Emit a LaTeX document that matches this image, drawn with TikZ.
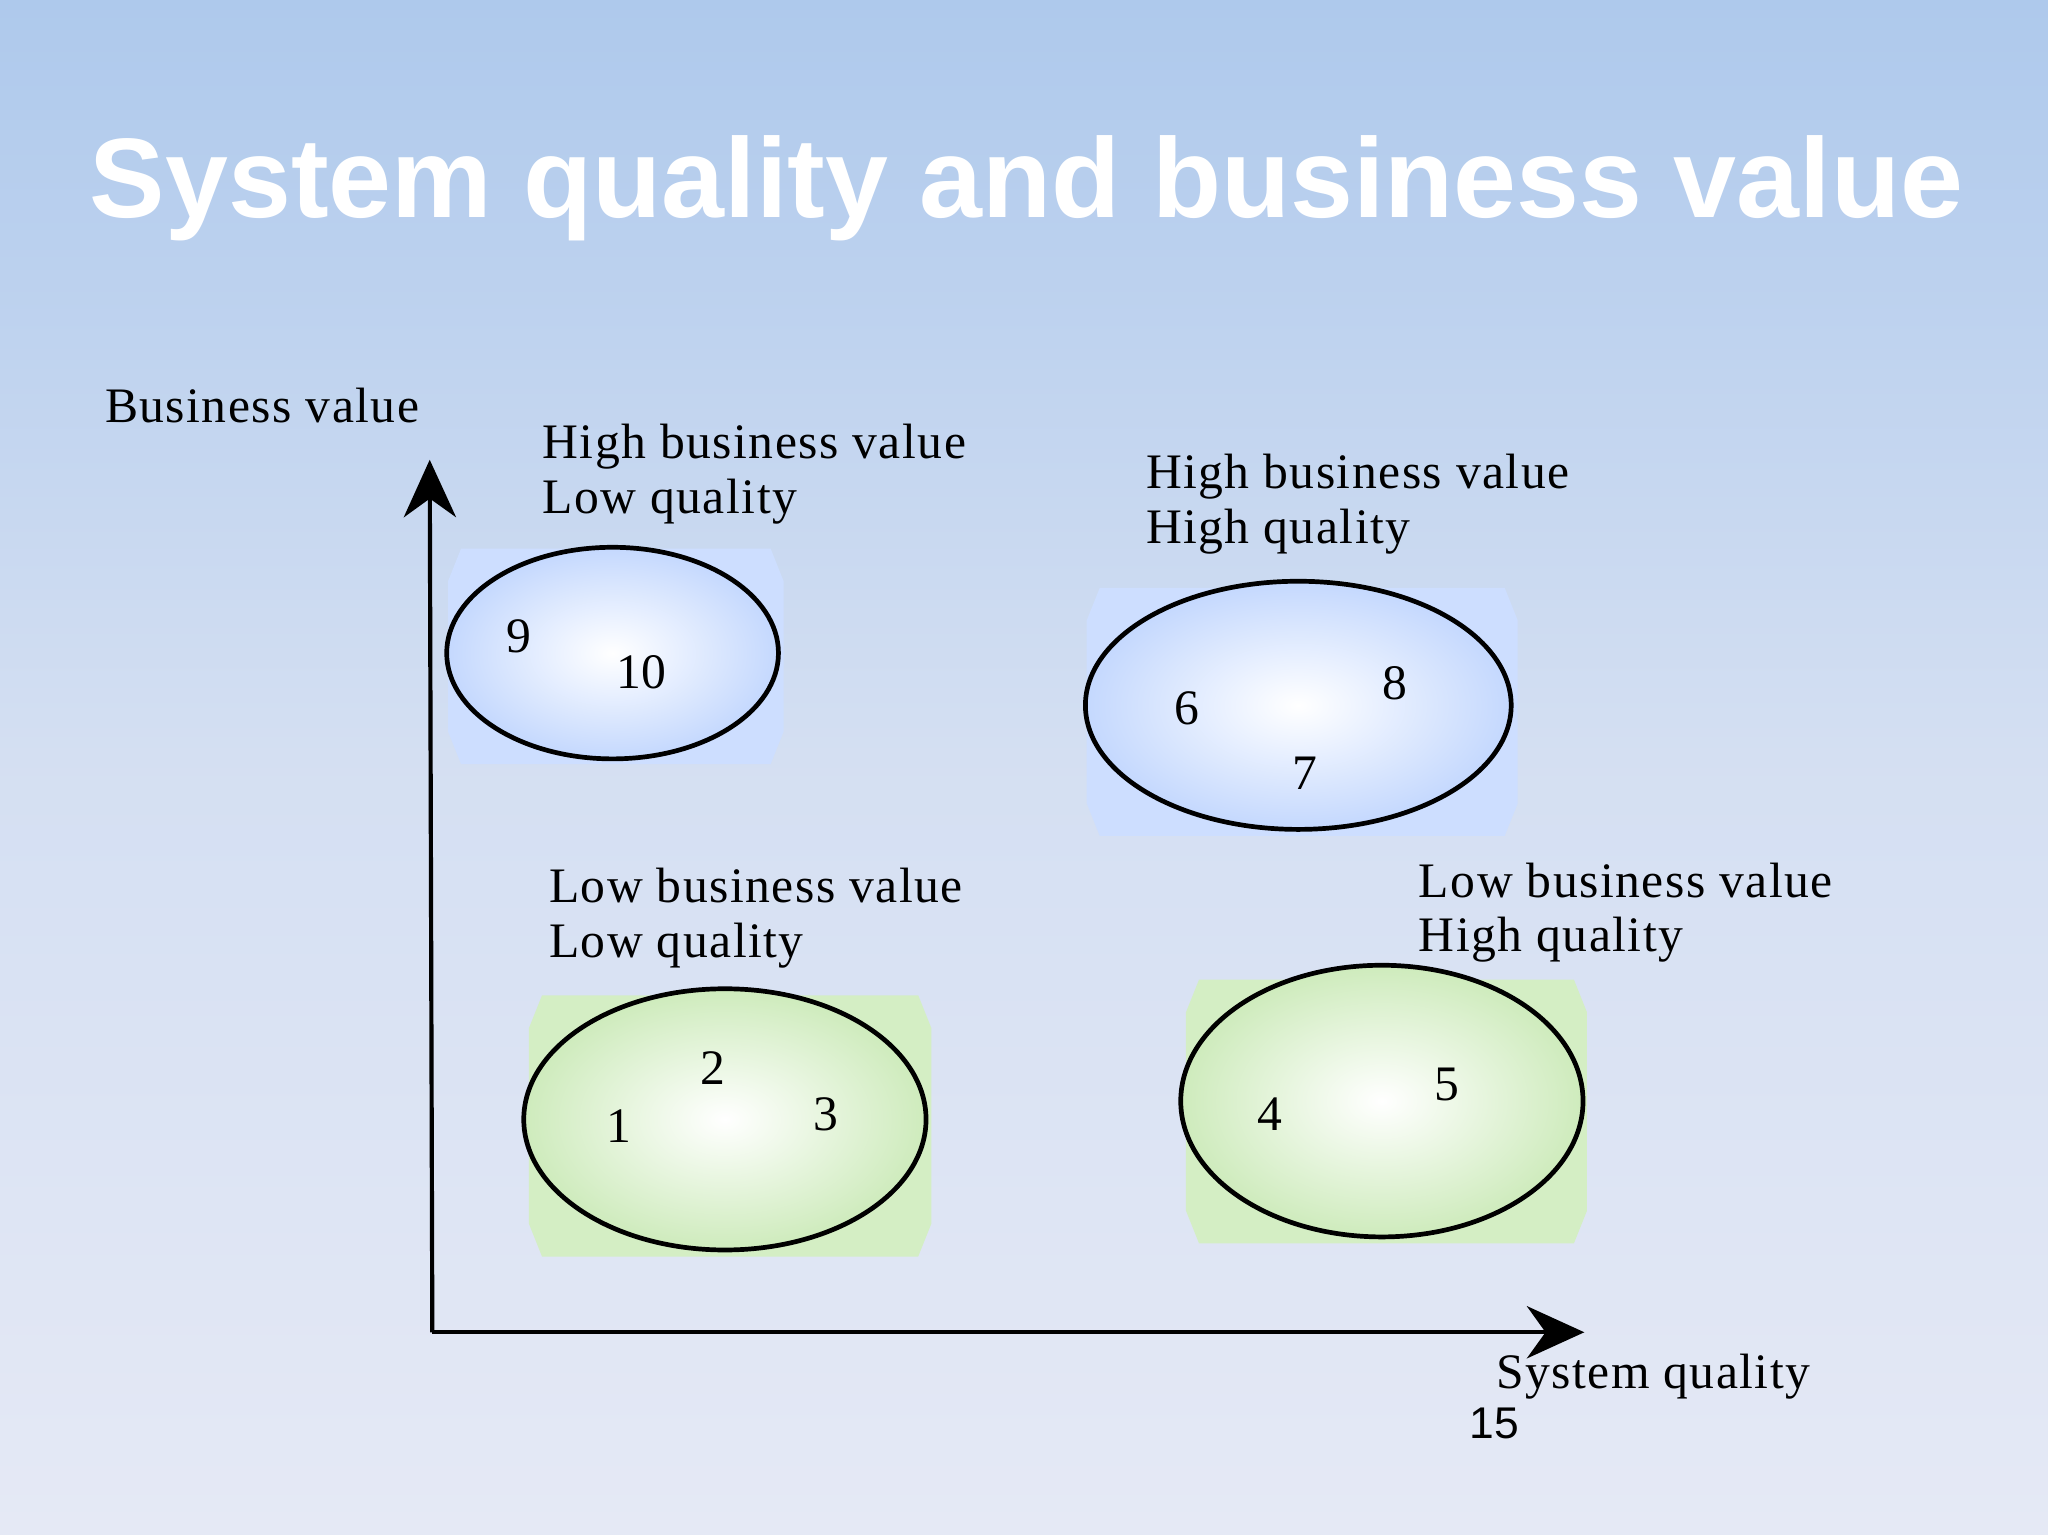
\documentclass[tikz,border=0pt]{standalone}
\usepackage{fontspec}
\setmainfont{Liberation Serif}
\newfontfamily\sansf{Liberation Sans}
\usetikzlibrary{arrows.meta}
\definecolor{bgtop}{RGB}{174,201,236}
\definecolor{bgbot}{RGB}{229,233,245}
\definecolor{bglow}{RGB}{205,222,255}
\definecolor{bedge}{RGB}{196,216,254}
\definecolor{glow}{RGB}{212,238,196}
\definecolor{gedge}{RGB}{206,235,188}
\tikzset{
  lbl/.style={font=\fontsize{19}{21}\selectfont\addfontfeatures{LetterSpace=3}, align=left, anchor=north west, inner sep=0pt},
  num/.style={font=\fontsize{19}{21}\selectfont, inner sep=0pt},
  ell/.style={draw=black, line width=1.8pt},
  axis/.style={line width=1.6pt, -{Stealth[length=22pt,width=20pt]}}
}
\newcommand{\glowbox}[5]{% x1 y1 x2 y2 color
  \fill[#5] (#1+10,#2) -- (#3-10,#2) -- (#3,#2+25) -- (#3,#4-25) -- (#3-10,#4) -- (#1+10,#4) -- (#1,#4-25) -- (#1,#2+25) -- cycle;}
\begin{document}
\begin{tikzpicture}[x=0.5pt,y=-0.5pt]
\shade[top color=bgtop, bottom color=bgbot, middle color=bgbot!70!bgtop] (0,0) rectangle (1568,1175);
\useasboundingbox (0,0) rectangle (1568,1175);
\node[font=\sansf\bfseries\fontsize{43.3}{47}\selectfont, text=white] (title) at (786,144) {System quality and business value};

% glow boxes
\glowbox{343}{420}{600}{585}{bglow}
\glowbox{832}{450}{1162}{640}{bglow}
\glowbox{405}{762}{713}{962}{glow}
\glowbox{908}{750}{1215}{952}{glow}

% ellipses
\shade[inner color=white, outer color=bedge] (469,500) ellipse [x radius=127, y radius=81];
\draw[ell] (469,500) ellipse [x radius=127, y radius=81];
\shade[inner color=white, outer color=bedge] (994,540) ellipse [x radius=163, y radius=95];
\draw[ell] (994,540) ellipse [x radius=163, y radius=95];
\shade[inner color=white, outer color=gedge] (555,857) ellipse [x radius=154, y radius=100];
\draw[ell] (555,857) ellipse [x radius=154, y radius=100];
\shade[inner color=white, outer color=gedge] (1058,843) ellipse [x radius=154, y radius=104];
\draw[ell] (1058,843) ellipse [x radius=154, y radius=104];

% numbers
\node[num] (n9) at (397,487) {9};
\node[num] (n10) at (491,515) {10};
\node[num] (n6) at (909,542) {6};
\node[num] (n8) at (1068,523) {8};
\node[num] (n7) at (999,592) {7};
\node[num] (n1) at (474,862) {1};
\node[num] (n2) at (546,818) {2};
\node[num] (n3) at (632,853) {3};
\node[num] (n4) at (972,853) {4};
\node[num] (n5) at (1108,830) {5};

% labels
\node[lbl] (l1) at (415,324) {High business value\\Low quality};
\node[lbl] (l2) at (877,347) {High business value\\High quality};
\node[lbl] (l3) at (420,664) {Low business value\\Low quality};
\node[lbl] (l4) at (1086,660) {Low business value\\High quality};
\node[lbl] (ylab) at (80,297) {Business value};
\node[lbl] (xlab) at (1145,1036) {System quality};
\node[font=\sansf\fontsize{17}{19}\selectfont] (pg) at (1144,1090) {15};

% axes
\coordinate (o) at (331,1020);
\coordinate (ytip) at (329,352);
\coordinate (xtip) at (1213,1020);
\draw[axis] (o) -- (ytip);
\draw[axis] (o) -- (xtip);
\end{tikzpicture}
\end{document}
